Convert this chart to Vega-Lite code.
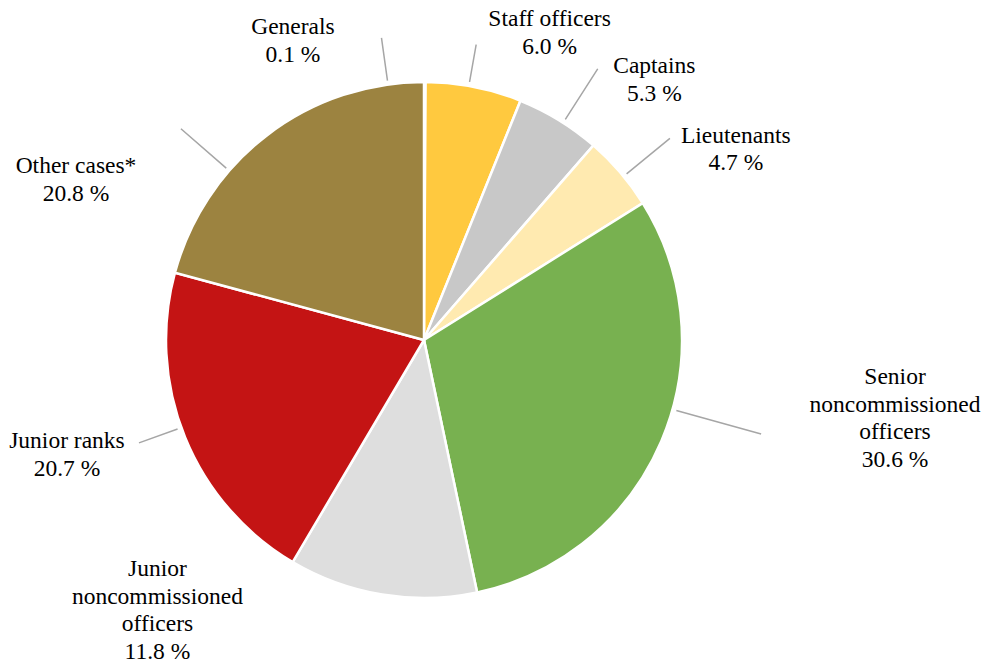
{
  "$schema": "https://vega.github.io/schema/vega-lite/v6.json",
  "width": 848,
  "height": 646,
  "autosize": {"type": "none"},
  "padding": {"left": 0, "top": 17, "right": 142, "bottom": 0},
  "background": "white",
  "view": {"stroke": null},
  "config": {"font": "Liberation Serif", "text": {"font": "Liberation Serif"}},
  "data": {
    "values": [
      {"id": 1, "category": "Generals", "share": 0.1, "label": "Generals\n0.1 %"},
      {"id": 2, "category": "Staff officers", "share": 6.0, "label": "Staff officers\n6.0 %"},
      {"id": 3, "category": "Captains", "share": 5.3, "label": "Captains\n5.3 %"},
      {"id": 4, "category": "Lieutenants", "share": 4.7, "label": "Lieutenants\n4.7 %"},
      {"id": 5, "category": "Senior noncommissioned officers", "share": 30.6, "label": "Senior\nnoncommissioned\nofficers\n30.6 %"},
      {"id": 6, "category": "Junior noncommissioned officers", "share": 11.8, "label": "Junior\nnoncommissioned\nofficers\n11.8 %"},
      {"id": 7, "category": "Junior ranks", "share": 20.7, "label": "Junior ranks\n20.7 %"},
      {"id": 8, "category": "Other cases*", "share": 20.8, "label": "Other cases*\n20.8 %"}
    ]
  },
  "encoding": {
    "theta": {"field": "share", "type": "quantitative", "stack": true},
    "order": {"field": "id", "type": "quantitative"}
  },
  "layer": [
    {
      "mark": {"type": "arc", "radius": 258, "stroke": "white", "strokeWidth": 2.5},
      "encoding": {
        "color": {
          "field": "category",
          "type": "nominal",
          "legend": null,
          "scale": {
            "domain": ["Generals", "Staff officers", "Captains", "Lieutenants", "Senior noncommissioned officers", "Junior noncommissioned officers", "Junior ranks", "Other cases*"],
            "range": ["#4472C4", "#FFC93F", "#C8C8C8", "#FFEAB0", "#78B150", "#DEDEDE", "#C41414", "#9C8340"]
          }
        }
      }
    },
    {
      "mark": {"type": "arc", "radius": 305, "radius2": 262, "padAngle": 3, "thetaOffset": -0.143, "theta2Offset": -0.143, "stroke": "#A6A6A6", "strokeWidth": 1.5, "fillOpacity": 0},
      "encoding": {"strokeOpacity": {"condition": {"test": "datum.category === 'Generals'", "value": 1}, "value": 0}}
    },
    {
      "mark": {"type": "arc", "radius": 300, "radius2": 262, "padAngle": 3, "thetaOffset": -0.02, "theta2Offset": -0.02, "stroke": "#A6A6A6", "strokeWidth": 1.5, "fillOpacity": 0},
      "encoding": {"strokeOpacity": {"condition": {"test": "datum.category === 'Staff officers'", "value": 1}, "value": 0}}
    },
    {
      "mark": {"type": "arc", "radius": 322, "radius2": 262, "padAngle": 3, "thetaOffset": 0.02, "theta2Offset": 0.02, "stroke": "#A6A6A6", "strokeWidth": 1.5, "fillOpacity": 0},
      "encoding": {"strokeOpacity": {"condition": {"test": "datum.category === 'Captains'", "value": 1}, "value": 0}}
    },
    {
      "mark": {"type": "arc", "radius": 318, "radius2": 262, "padAngle": 3, "thetaOffset": 0.02, "theta2Offset": 0.02, "stroke": "#A6A6A6", "strokeWidth": 1.5, "fillOpacity": 0},
      "encoding": {"strokeOpacity": {"condition": {"test": "datum.category === 'Lieutenants'", "value": 1}, "value": 0}}
    },
    {
      "mark": {"type": "arc", "radius": 350, "radius2": 262, "padAngle": 3, "thetaOffset": -0.13, "theta2Offset": -0.13, "stroke": "#A6A6A6", "strokeWidth": 1.5, "fillOpacity": 0},
      "encoding": {"strokeOpacity": {"condition": {"test": "datum.category === 'Senior noncommissioned officers'", "value": 1}, "value": 0}}
    },
    {
      "mark": {"type": "arc", "radius": 303, "radius2": 262, "padAngle": 3, "thetaOffset": 0.04, "theta2Offset": 0.04, "stroke": "#A6A6A6", "strokeWidth": 1.5, "fillOpacity": 0},
      "encoding": {"strokeOpacity": {"condition": {"test": "datum.category === 'Junior ranks'", "value": 1}, "value": 0}}
    },
    {
      "mark": {"type": "arc", "radius": 322, "radius2": 262, "padAngle": 3, "thetaOffset": -0.202, "theta2Offset": -0.202, "stroke": "#A6A6A6", "strokeWidth": 1.5, "fillOpacity": 0},
      "encoding": {"strokeOpacity": {"condition": {"test": "datum.category === 'Other cases*'", "value": 1}, "value": 0}}
    },
    {
      "mark": {"type": "text", "radius": 299, "dx": -132, "dy": -13.75, "align": "center", "baseline": "middle", "font": "Liberation Serif", "fontSize": 23.5, "lineHeight": 27.5, "lineBreak": "\n", "color": "black"},
      "encoding": {"text": {"condition": {"test": "datum.category === 'Generals'", "field": "label", "type": "nominal"}, "value": ""}}
    },
    {
      "mark": {"type": "text", "radius": 313, "dx": 65, "dy": -13.75, "align": "center", "baseline": "middle", "font": "Liberation Serif", "fontSize": 23.5, "lineHeight": 27.5, "lineBreak": "\n", "color": "black"},
      "encoding": {"text": {"condition": {"test": "datum.category === 'Staff officers'", "field": "label", "type": "nominal"}, "value": ""}}
    },
    {
      "mark": {"type": "text", "radius": 305, "dx": 71, "dy": -13.75, "align": "center", "baseline": "middle", "font": "Liberation Serif", "fontSize": 23.5, "lineHeight": 27.5, "lineBreak": "\n", "color": "black"},
      "encoding": {"text": {"condition": {"test": "datum.category === 'Captains'", "field": "label", "type": "nominal"}, "value": ""}}
    },
    {
      "mark": {"type": "text", "radius": 293, "dx": 89, "dy": -13.75, "align": "center", "baseline": "middle", "font": "Liberation Serif", "fontSize": 23.5, "lineHeight": 27.5, "lineBreak": "\n", "color": "black"},
      "encoding": {"text": {"condition": {"test": "datum.category === 'Lieutenants'", "field": "label", "type": "nominal"}, "value": ""}}
    },
    {
      "mark": {"type": "text", "radius": 200, "dx": 287, "dy": -41.25, "align": "center", "baseline": "middle", "font": "Liberation Serif", "fontSize": 23.5, "lineHeight": 27.5, "lineBreak": "\n", "color": "black"},
      "encoding": {"text": {"condition": {"test": "datum.category === 'Senior noncommissioned officers'", "field": "label", "type": "nominal"}, "value": ""}}
    },
    {
      "mark": {"type": "text", "radius": 274, "dx": -222, "dy": -41.25, "align": "center", "baseline": "middle", "font": "Liberation Serif", "fontSize": 23.5, "lineHeight": 27.5, "lineBreak": "\n", "color": "black"},
      "encoding": {"text": {"condition": {"test": "datum.category === 'Junior noncommissioned officers'", "field": "label", "type": "nominal"}, "value": ""}}
    },
    {
      "mark": {"type": "text", "radius": 305, "dx": -74.5, "dy": -13.75, "align": "center", "baseline": "middle", "font": "Liberation Serif", "fontSize": 23.5, "lineHeight": 27.5, "lineBreak": "\n", "color": "black"},
      "encoding": {"text": {"condition": {"test": "datum.category === 'Junior ranks'", "field": "label", "type": "nominal"}, "value": ""}}
    },
    {
      "mark": {"type": "text", "radius": 201.5, "dx": -225.5, "dy": -13.75, "align": "center", "baseline": "middle", "font": "Liberation Serif", "fontSize": 23.5, "lineHeight": 27.5, "lineBreak": "\n", "color": "black"},
      "encoding": {"text": {"condition": {"test": "datum.category === 'Other cases*'", "field": "label", "type": "nominal"}, "value": ""}}
    }
  ]
}
